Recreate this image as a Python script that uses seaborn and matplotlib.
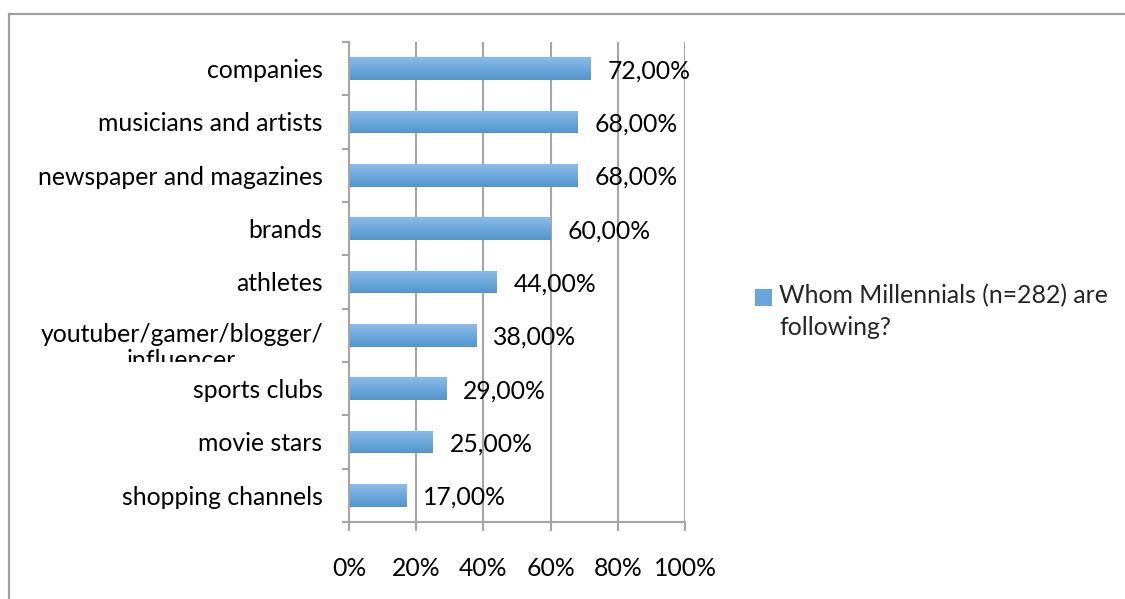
import numpy as np
import pandas as pd
import matplotlib
matplotlib.use("Agg")
import matplotlib.pyplot as plt
import seaborn as sns
from matplotlib.patches import Rectangle
from matplotlib.legend_handler import HandlerPatch
from matplotlib.transforms import Bbox, TransformedBbox, ScaledTranslation
from matplotlib.colors import LinearSegmentedColormap

categories = [
    "companies",
    "musicians and artists",
    "newspaper and magazines",
    "brands",
    "athletes",
    "youtuber/gamer/blogger/\ninfluencer",
    "sports clubs",
    "movie stars",
    "shopping channels",
]
shares = [72, 68, 68, 60, 44, 38, 29, 25, 17]
series_name = "Whom Millennials (n=282) are\nfollowing?"
x_ticks = [0, 20, 40, 60, 80, 100]
x_tick_labels = ["0%", "20%", "40%", "60%", "80%", "100%"]

df = pd.DataFrame({"category": categories, "share": shares})

sns.set_theme(style="white")
plt.rcParams["font.family"] = ["Lato", "DejaVu Sans"]
FS = 17.8
GRID = "#a6a6a6"
TEXT = "#000000"
BAR = "#6aa5dc"

W, H = 1125, 599
fig = plt.figure(figsize=(W / 100, H / 100), dpi=100)
ax = fig.add_axes([349 / W, 1 - 522 / H, (685 - 349) / W, (522 - 42) / H])

sns.barplot(data=df, x="share", y="category", orient="h", color=BAR,
            width=0.43, ax=ax, saturation=1)

ax.set_xlabel("")
ax.set_ylabel("")

# vertical gradient inside each bar
cmap = LinearSegmentedColormap.from_list("bar", ["#8dbce6", "#4f96d0"])
grad = np.linspace(0, 1, 64).reshape(-1, 1)
for p in ax.patches:
    x0, y0 = p.get_x(), p.get_y()
    w, h = p.get_width(), p.get_height()
    p.set_facecolor("none")
    p.set_edgecolor("none")
    im = ax.imshow(grad, cmap=cmap, aspect="auto", extent=[x0, x0 + w, y0 + h, y0],
                   origin="upper", zorder=2, interpolation="bicubic")
    im.set_clip_path(p)
ax.set_xlim(0, 100)
ax.set_ylim(len(categories) - 0.5, -0.5)

# value labels
for xv, yv in zip(shares, range(len(categories))):
    ax.annotate(f"{xv:.2f}%".replace(".", ","), xy=(xv, yv), xytext=(12, -1.5),
                textcoords="offset points", ha="left", va="center",
                fontsize=FS, color=TEXT, zorder=5)

# grid and axes
ax.set_xticks(x_ticks)
ax.set_xticklabels(x_tick_labels, fontsize=FS, color=TEXT)
ax.xaxis.grid(True, color=GRID, linewidth=1.5)
ax.yaxis.grid(False)
ax.set_axisbelow(True)
for side in ["top", "right"]:
    ax.spines[side].set_visible(False)
for side in ["left", "bottom"]:
    ax.spines[side].set_color(GRID)
    ax.spines[side].set_linewidth(1.5)

ax.tick_params(axis="x", which="major", bottom=True, length=6.5, width=1.5,
               color=GRID, pad=18.5)
ax.set_yticks(np.arange(len(categories) + 1) - 0.5, minor=True)
ax.set_yticks(np.arange(len(categories)))
ax.tick_params(axis="y", which="major", left=False, length=0, pad=19)
ax.tick_params(axis="y", which="minor", left=True, length=5, width=1.5, color=GRID)
ax.set_yticklabels(categories, fontsize=FS, color=TEXT)

# wrapped label, clipped to its category band
yi = categories.index("youtuber/gamer/blogger/\ninfluencer")
ax.get_yticklabels()[yi].set_visible(False)
trans = ax.get_yaxis_transform() + ScaledTranslation(-26 / 100, 0, fig.dpi_scale_trans)
t = ax.text(0, yi - 0.24, categories[yi], transform=trans, ha="right", va="top",
            fontsize=FS, color=TEXT, linespacing=1.2, multialignment="center")
clip = TransformedBbox(Bbox([[-1.2, yi - 0.5], [0, yi + 0.5]]), ax.get_yaxis_transform())
t.set_clip_box(clip)
t.set_clip_on(True)


# legend: square key aligned with the first text line
def top_square(legend, orig_handle, xdescent, ydescent, width, height, fontsize):
    side = width
    return Rectangle((-xdescent, -ydescent + height - side + 2), side, side)


handle = Rectangle((0, 0), 1, 1, facecolor=BAR, edgecolor="none")
leg = fig.legend([handle], [series_name], loc="upper left",
                 bbox_to_anchor=(755 / W, 1 - 284 / H), frameon=False, fontsize=FS,
                 handlelength=0.68, handleheight=2.3, handletextpad=0.3,
                 borderaxespad=0, borderpad=0, labelspacing=0,
                 handler_map={Rectangle: HandlerPatch(patch_func=top_square)})
leg.get_texts()[0].set_linespacing(1.45)

# outer chart border
fig.add_artist(Rectangle((8.5 / W, -0.05), 1.2, 1 - 13.5 / H + 0.05,
                         transform=fig.transFigure, fill=False,
                         edgecolor="#a0a0a0", linewidth=1.6))

fig.savefig("out.png", dpi=100)
